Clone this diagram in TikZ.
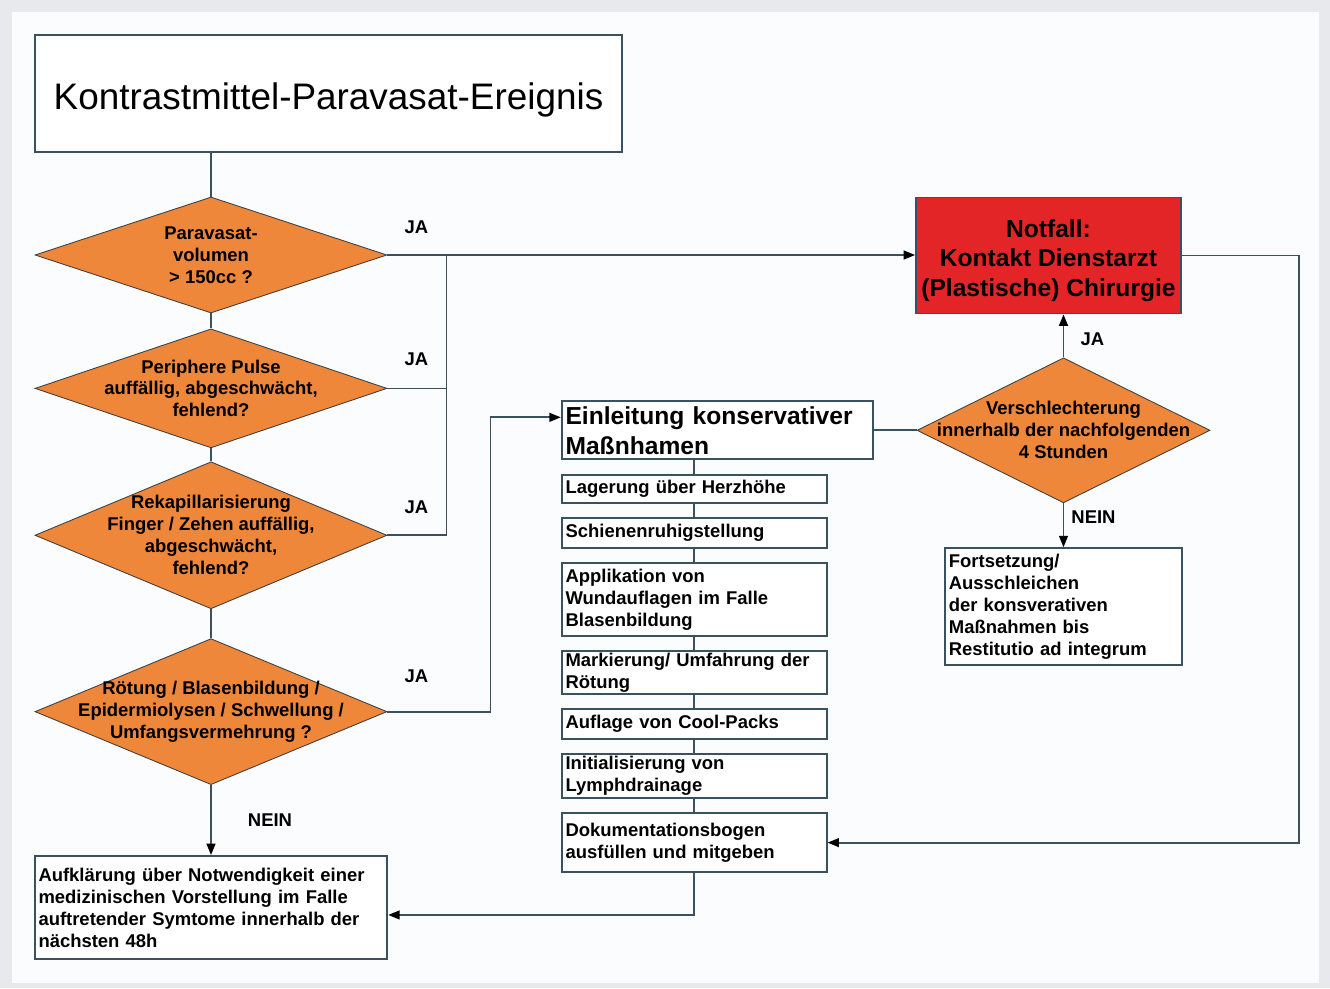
\documentclass[tikz,border=0pt]{standalone}
\usepackage{fontspec}
\setmainfont{Liberation Sans}
\usetikzlibrary{shapes,arrows.meta,positioning}

\definecolor{pagegray}{RGB}{232,233,236}
\definecolor{panelwhite}{RGB}{251,252,254}
\definecolor{decorange}{RGB}{239,135,58}
\definecolor{alarmred}{RGB}{228,37,40}
\definecolor{lineslate}{RGB}{58,82,96}

\newcommand{\boxfont}{\fontsize{10.5}{12.5}\selectfont\bfseries}
\newcommand{\headfont}{\fontsize{14}{17}\selectfont\bfseries}
\newcommand{\titlefont}{\fontsize{21}{25}\selectfont}

\tikzstyle{line} = [draw=lineslate, line width=1pt]
\tikzstyle{flowArrow} = [line, -{Triangle[length=6.5pt,width=5pt,color=black]}]
\tikzstyle{block} = [rectangle, draw=lineslate, line width=1pt, fill=white,
inner xsep=2.2pt, inner ysep=0.5pt, align=left, font=\boxfont]
\tikzstyle{stepbox} = [block, text width=5.145cm]
\tikzstyle{decision} = [diamond, draw=black!75, line width=0.5pt, fill=decorange,
inner sep=0pt, minimum width=7.04cm]
\tikzstyle{dtext} = [align=center, font=\boxfont]
\tikzstyle{lbl} = [font=\boxfont]

\begin{document}
\begin{tikzpicture}
		%background
		\fill[pagegray] (0,0) rectangle (26.6,-19.76);
		\fill[panelwhite] (0.24,-0.24) rectangle (26.38,-19.66);
		\useasboundingbox (0,0) rectangle (26.6,-19.76);

		%left column
		\node[block, font=\titlefont, align=center, minimum width=11.74cm, minimum height=2.34cm](event) at (6.57,-1.87){\rule{0pt}{23pt}Kontrastmittel-Paravasat-Ereignis};
		\node[decision, minimum height=2.32cm, label={[dtext]center:{Paravasat-\\volumen\\> 150cc ?}}](volume) at (4.22,-5.10){};
		\node[decision, minimum height=2.38cm, below=0.3cm of volume, label={[dtext]center:{Periphere Pulse\\auffällig, abgeschwächt,\\fehlend?}}](pulse){};
		\node[decision, minimum height=2.94cm, below=0.26cm of pulse, label={[dtext]center:{Rekapillarisierung\\Finger / Zehen auffällig,\\abgeschwächt,\\fehlend?}}](recap){};
		\node[decision, minimum height=2.92cm, below=0.58cm of recap, label={[dtext]center:{Rötung / Blasenbildung /\\Epidermiolysen / Schwellung /\\Umfangsvermehrung ?}}](redness){};
		\node[block, text width=6.9cm, minimum height=2.06cm, below=1.40cm of redness](inform){Aufklärung über Notwendigkeit einer\\medizinischen Vorstellung im Falle\\auftretender Symtome innerhalb der\\nächsten 48h};

		%right side
		\node[block, fill=alarmred, font=\headfont, align=center, minimum width=5.30cm, minimum height=2.32cm](emergency) at (20.97,-5.11){\rule{0pt}{16pt}Notfall:\\Kontakt Dienstarzt\\(Plastische) Chirurgie};
		\node[decision, minimum width=5.86cm, minimum height=2.90cm, below=0.86cm of emergency, xshift=0.3cm, label={[dtext]center:{Verschlechterung\\innerhalb der nachfolgenden\\4 Stunden}}](worse){};
		\node[block, text width=4.585cm, minimum height=2.34cm, below=0.88cm of worse](continue){Fortsetzung/\\Ausschleichen\\der konsverativen\\Maßnahmen bis\\Restitutio ad integrum};
		\node[block, font=\headfont, text width=6.065cm, minimum height=1.16cm, left=0.86cm of worse](measures){Einleitung konservativer\\Maßnhamen};

		%measures
		\node[stepbox, minimum height=0.56cm, below=0.28cm of measures.south west, anchor=north west](elevate){Lagerung über Herzhöhe};
		\node[stepbox, minimum height=0.60cm, below=0.265cm of elevate](splint){Schienenruhigstellung};
		\node[stepbox, minimum height=1.46cm, below=0.265cm of splint](dressing){Applikation von\\Wundauflagen im Falle\\Blasenbildung};
		\node[stepbox, minimum height=0.86cm, below=0.265cm of dressing](marking){Markierung/ Umfahrung der\\Rötung};
		\node[stepbox, minimum height=0.60cm, below=0.265cm of marking](coolpack){Auflage von Cool-Packs};
		\node[stepbox, minimum height=0.88cm, below=0.265cm of coolpack](drainage){Initialisierung von\\Lymphdrainage};
		\node[stepbox, minimum height=1.18cm, below=0.265cm of drainage](record){Dokumentationsbogen\\ausfüllen und mitgeben};

		%labels
		\node[lbl](yesVolume) at ([shift={(0.58,0.56)}]volume.east){JA};
		\node[lbl](yesPulse) at ([shift={(0.58,0.58)}]pulse.east){JA};
		\node[lbl](yesRecap) at ([shift={(0.58,0.56)}]recap.east){JA};
		\node[lbl](yesRedness) at ([shift={(0.58,0.70)}]redness.east){JA};
		\node[lbl](noRedness) at ([shift={(1.18,-0.70)}]redness.south){NEIN};
		\node[lbl](yesWorse) at ([shift={(0.58,0.36)}]worse.north){JA};
		\node[lbl](noWorse) at ([shift={(0.60,-0.28)}]worse.south){NEIN};

		%arrows
		\draw[line](event.south -| volume.north)--(volume.north);
		\foreach \a/\b in {volume/pulse, pulse/recap, recap/redness}
			\draw[line](\a.south)--(\b.north);
		\draw[flowArrow](volume.east)--(volume.east -| emergency.west);
		\coordinate[right=1.18cm of volume.east](yesbus);
		\draw[line](pulse.east)-|(yesbus);
		\draw[line](recap.east)-|(yesbus);
		\coordinate[above=0.26cm of measures.west](measuresin);
		\draw[flowArrow](redness.east)--++(2.06,0)|-(measuresin);
		\draw[flowArrow](redness.south)--(inform.north);
		\draw[line](measures.east)--(worse.west);
		\draw[flowArrow](worse.north)--(worse.north |- emergency.south);
		\draw[flowArrow](worse.south)--(worse.south |- continue.north);
		\draw[flowArrow](emergency.east)--++(2.34,0)|-(record.east);
		\draw[line](measures.south -| elevate.north)--(elevate.north);
		\foreach \a/\b in {elevate/splint, splint/dressing, dressing/marking, marking/coolpack, coolpack/drainage, drainage/record}
			\draw[line](\a.south)--(\b.north);
		\coordinate[below=0.15cm of inform.east](informin);
		\draw[flowArrow](record.south)|-(informin);
\end{tikzpicture}
\end{document}
